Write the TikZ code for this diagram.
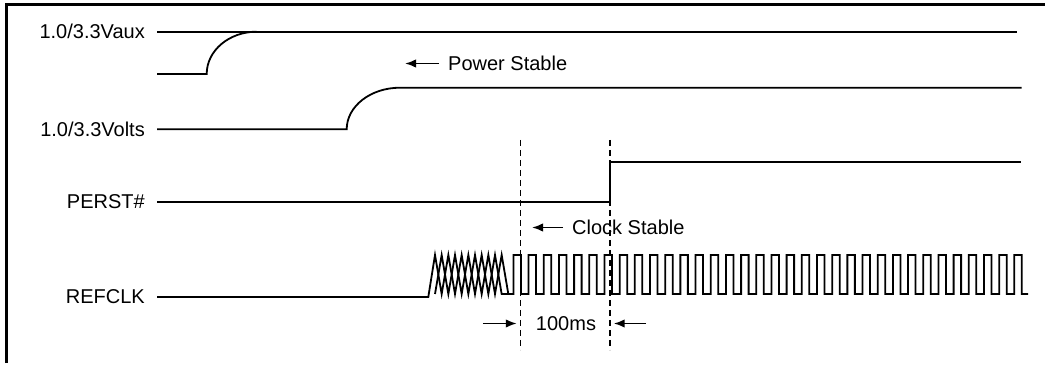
\documentclass[tikz,border=0pt]{standalone}
\usepackage{fontspec}
\setmainfont{Liberation Sans}
\usetikzlibrary{arrows.meta}
\begin{document}
\begin{tikzpicture}[x=1pt,y=-1pt,
  sig/.style={line width=1.8pt, line join=miter},
  guide/.style={line width=1.9pt, dash pattern=on 6pt off 4pt},
  lbl/.style={font=\fontsize{20}{24}\selectfont, inner sep=0pt},
  arr/.style={line width=1.8pt, -{Latex[length=11pt,width=8.5pt]}},
  frame/.style={line width=3pt}]
\useasboundingbox (0,0) rectangle (1045,366);
% frame (top and left edges visible)
\draw[frame] (6,363) -- (6,4.5) -- (1045,4.5);
% labels
\node[lbl, anchor=east] (vaux) at (145,31) {1.0/3.3Vaux};
\node[lbl, anchor=east] (volts) at (145,129) {1.0/3.3Volts};
\node[lbl, anchor=east] (perst) at (145,202) {PERST\#};
\node[lbl, anchor=east] (refclk) at (145,297) {REFCLK};
% Vaux
\draw[sig] (157,31.7) -- (1017.3,31.7);
\draw[sig] (157,74) -- (206.7,74) .. controls (206.7,50.6) and (229.1,31.7) .. (256.7,31.7);
% Volts
\draw[sig] (157,129.3) -- (346.7,129.3) .. controls (346.7,106.3) and (370.6,87.7) .. (400,87.7) -- (1021.7,87.7);
% PERST#
\draw[sig] (157,202.3) -- (610,202.3) -- (610,161.7) -- (1021,161.7);
% guides
\draw[guide] (520.5,140) -- (520.5,350);
\draw[guide] (610,140) -- (610,350);
% annotations
\node[lbl, anchor=west] (ps) at (448,63.5) {Power Stable};
\draw[arr] ([xshift=-9pt]ps.west) -- ++(-34,0);
\node[lbl, anchor=west] (cs) at (572,227.5) {Clock Stable};
\draw[arr] ([xshift=-9pt]cs.west) -- ++(-31,0);
\node[lbl] (ms) at (566,323.5) {100ms};
\draw[arr] ([xshift=-53pt]ms.west) -- ++(34,0);
\draw[arr] ([xshift=50pt]ms.east) -- ++(-32.5,0);
% REFCLK: ramp-up crossing region then clock
\draw[sig] (157,297) -- (428.3,297)
  \foreach \k in {0,2,...,10} { -- ({435+6.667*\k},255) -- ({435+6.667*(\k+1)},294) }
  -- (513.4,294)
  \foreach \k in {0,...,33} { -- ({513.4+15.18*\k},294) -- ({513.4+15.18*\k},255) -- ({520.9+15.18*\k},255) -- ({520.9+15.18*\k},294) }
  -- (1028,294);
\draw[sig] (435,294)
  \foreach \k in {1,3,...,9} { -- ({435+6.667*\k},255) -- ({435+6.667*(\k+1)},294) }
  -- (508.3,294);
\end{tikzpicture}
\end{document}
